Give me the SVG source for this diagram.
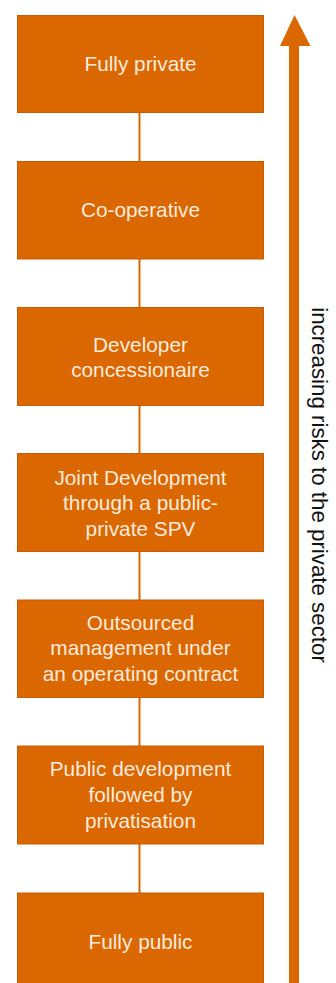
<svg xmlns="http://www.w3.org/2000/svg" width="336" height="983" viewBox="0 0 336 983">
  <style>
    .box { fill: #DA6700; stroke: #C45C08; stroke-width: 1; }
    .lbl { font-family: "Liberation Sans", Arial, sans-serif; font-size: 20.8px; fill: #FCEBDD; text-anchor: middle; }
    .link { stroke: #DA6700; stroke-width: 2; fill: none; }
    .axis { font-family: "Liberation Sans", Arial, sans-serif; font-size: 22.3px; fill: #111111; text-anchor: middle; }
  </style>
  <rect width="336" height="983" fill="#FFFFFF"/>

  <!-- vertical connectors between the stacked stages -->
  <g id="connectors">
    <line class="link" x1="139.5" y1="112.5" x2="139.5" y2="161"/>
    <line class="link" x1="139.5" y1="258.8" x2="139.5" y2="307.5"/>
    <line class="link" x1="139.5" y1="405.2" x2="139.5" y2="453.5"/>
    <line class="link" x1="139.5" y1="551.5" x2="139.5" y2="600"/>
    <line class="link" x1="139.5" y1="697.8" x2="139.5" y2="746"/>
    <line class="link" x1="139.5" y1="844" x2="139.5" y2="893"/>
  </g>

  <g id="fully-private">
    <rect class="box" x="17.5" y="15.5" width="246" height="97"/>
    <text class="lbl" x="140.5" y="71">Fully private</text>
  </g>

  <g id="co-operative">
    <rect class="box" x="17.5" y="161.5" width="246" height="97.5"/>
    <text class="lbl" x="140.5" y="217">Co-operative</text>
  </g>

  <g id="developer-concessionaire">
    <rect class="box" x="17.5" y="307.5" width="246" height="98"/>
    <text class="lbl" x="140.5" y="351.5">Developer</text>
    <text class="lbl" x="140.5" y="376.5">concessionaire</text>
  </g>

  <g id="joint-development">
    <rect class="box" x="17.5" y="453.5" width="246" height="98"/>
    <text class="lbl" x="140.5" y="484.5">Joint Development</text>
    <text class="lbl" x="140.5" y="510">through a public-</text>
    <text class="lbl" x="140.5" y="535.5">private SPV</text>
  </g>

  <g id="outsourced-management">
    <rect class="box" x="17.5" y="600" width="246" height="97.5"/>
    <text class="lbl" x="140.5" y="629.5">Outsourced</text>
    <text class="lbl" x="140.5" y="655">management under</text>
    <text class="lbl" x="140.5" y="680.5">an operating contract</text>
  </g>

  <g id="public-development">
    <rect class="box" x="17.5" y="746" width="246" height="98"/>
    <text class="lbl" x="140.5" y="776">Public development</text>
    <text class="lbl" x="140.5" y="801.5">followed by</text>
    <text class="lbl" x="140.5" y="827.5">privatisation</text>
  </g>

  <g id="fully-public">
    <rect class="box" x="17.5" y="893" width="246" height="98"/>
    <text class="lbl" x="140.5" y="948.5">Fully public</text>
  </g>

  <!-- risk axis: upward arrow with rotated caption -->
  <g id="risk-axis">
    <rect x="289" y="45" width="10" height="945" fill="#DA6700"/>
    <polygon points="294.5,15 280,46 310.5,46" fill="#DA6700"/>
    <text class="axis" transform="translate(312,485) rotate(90)">increasing risks to the private sector</text>
  </g>
</svg>
